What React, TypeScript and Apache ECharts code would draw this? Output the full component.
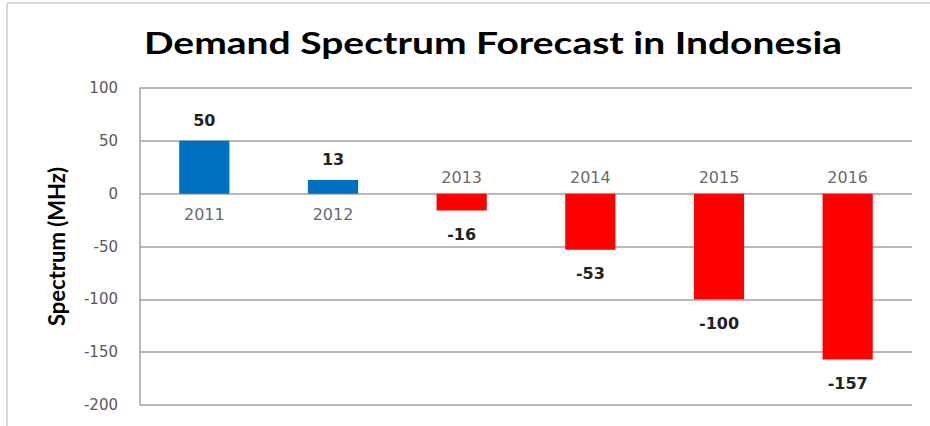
import React, { useEffect, useRef } from "react";
import * as echarts from "echarts";

const categories = ["2011", "2012", "2013", "2014", "2015", "2016"];
const values = [50, 13, -16, -53, -100, -157];
const yTicks = { min: -200, max: 100, interval: 50 };
const titleText = "Demand Spectrum Forecast in Indonesia";

export default function App() {
  const ref = useRef<HTMLDivElement>(null);
  useEffect(() => {
    if (!ref.current) return;
    const chart = echarts.init(ref.current, null, { renderer: "svg" });
    chart.setOption({
      animation: false,
      backgroundColor: "#ffffff",
      graphic: [
        { type: "line", shape: { x1: 7, y1: 3, x2: 930, y2: 3 }, style: { stroke: "#cccccc", lineWidth: 1.5 } },
        { type: "line", shape: { x1: 7, y1: 3, x2: 7, y2: 426 }, style: { stroke: "#cccccc", lineWidth: 1.5 } },
        {
          type: "text",
          x: 493,
          y: 42,
          scaleX: 1.3,
          style: {
            text: titleText,
            font: "bold 30px Lato",
            fill: "#000000",
            textAlign: "center",
            textVerticalAlign: "middle",
          },
        },
      ],
      grid: { left: 140, right: 18, top: 88, bottom: 21 },
      xAxis: {
        type: "category",
        data: categories,
        axisLine: { show: false },
        axisTick: { show: false },
        axisLabel: { show: false },
      },
      yAxis: {
        type: "value",
        min: yTicks.min,
        max: yTicks.max,
        interval: yTicks.interval,
        name: "Spectrum (MHz)",
        nameLocation: "middle",
        nameGap: 73,
        nameTextStyle: { fontFamily: "Lato", fontWeight: "bold", fontSize: 22, color: "#000000" },
        axisLine: { show: true, lineStyle: { color: "#a0a0a0", width: 1.5 } },
        axisTick: { show: false },
        axisLabel: { margin: 22, fontFamily: "DejaVu Sans", fontSize: 15, color: "#595959" },
        splitLine: { lineStyle: { color: "#a0a0a0", width: 1.5 } },
      },
      series: [
        {
          type: "bar",
          barWidth: "39%",
          data: values.map((v) => ({
            value: v,
            itemStyle: { color: v >= 0 ? "#0070C0" : "#FF0000" },
            label: {
              show: true,
              position: v >= 0 ? "top" : "bottom",
              distance: v >= 0 ? 12 : 16,
              fontFamily: "DejaVu Sans",
              fontWeight: "bold",
              fontSize: 16,
              color: "#222222",
            },
          })),
        },
        {
          type: "scatter",
          symbolSize: 0,
          silent: true,
          data: values.map((v, i) => ({
            value: [i, 0],
            label: {
              show: true,
              formatter: categories[i],
              position: v >= 0 ? "bottom" : "top",
              distance: v >= 0 ? 13 : 8,
              fontFamily: "DejaVu Sans",
              fontSize: 16,
              color: "#404040",
            },
          })),
        },
      ],
    });
    return () => chart.dispose();
  }, []);
  return (
    <div
      ref={ref}
      style={{ width: 930, height: 426, position: "absolute", left: 0, top: 0 }}
    />
  );
}
